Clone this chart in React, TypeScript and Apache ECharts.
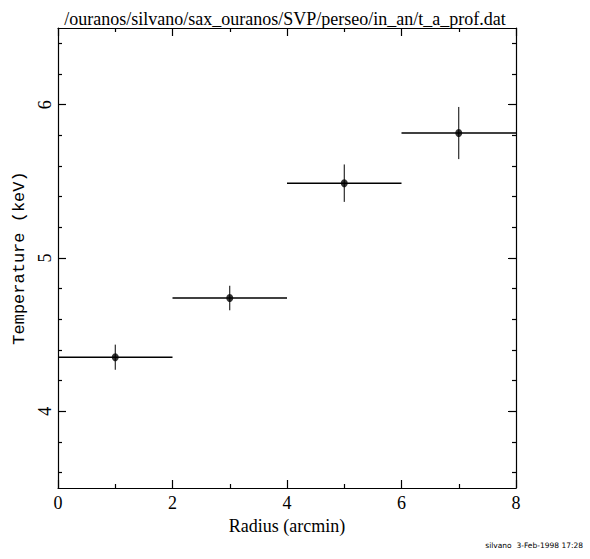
import React, { useEffect, useRef } from "react";
import * as echarts from "echarts";

const chartTitle = "/ouranos/silvano/sax_ouranos/SVP/perseo/in_an/t_a_prof.dat";
const xName = "Radius (arcmin)";
const yName = "Temperature (keV)";
const footer = "silvano  3-Feb-1998 17:28";

const radius = [1, 3, 5, 7];
const radiusErr = [1, 1, 1, 1];
const temperature = [4.353, 4.739, 5.488, 5.815];
const temperatureErr = [0.082, 0.08, 0.122, 0.17];

const yMajorTicks = [4, 5, 6];
const yMinorTicks = [3.6, 3.8, 4.2, 4.4, 4.6, 4.8, 5.2, 5.4, 5.6, 5.8, 6.2, 6.4];

const serif = "Liberation Serif";
const axisLineStyle = { color: "#000", width: 1.2 };

function xAxisDef(position: "bottom" | "top", labels: boolean) {
  return {
    type: "value",
    position,
    min: 0,
    max: 8,
    interval: 2,
    name: labels ? xName : "",
    nameLocation: "middle",
    nameGap: 29,
    nameTextStyle: { fontFamily: serif, fontSize: 18, color: "#000" },
    axisLine: { show: true, onZero: false, lineStyle: axisLineStyle },
    axisTick: { show: true, inside: true, length: 8, lineStyle: axisLineStyle },
    minorTick: { show: true, splitNumber: 2, length: 4, lineStyle: axisLineStyle },
    axisLabel: { show: labels, fontFamily: serif, fontSize: 18, color: "#000", margin: 6 },
    splitLine: { show: false },
    minorSplitLine: { show: false },
  };
}

function yAxisDef(position: "left" | "right", ticks: number[], major: boolean, labels: boolean) {
  return {
    type: "value",
    position,
    min: 3.5,
    max: 6.5,
    name: labels ? yName : "",
    nameLocation: "middle",
    nameRotate: 90,
    nameGap: 30,
    nameTextStyle: { fontFamily: "Liberation Mono", fontSize: 17, color: "#000" },
    axisLine: { show: major, onZero: false, lineStyle: axisLineStyle },
    axisTick: { show: true, inside: true, length: major ? 8 : 4, customValues: ticks, lineStyle: axisLineStyle },
    axisLabel: { show: labels, customValues: ticks, rotate: 90, fontFamily: serif, fontSize: 18, color: "#000", margin: 4 },
    splitLine: { show: false },
  };
}

export default function App() {
  const ref = useRef<HTMLDivElement>(null);
  useEffect(() => {
    if (!ref.current) return;
    const chart = echarts.init(ref.current, undefined, { renderer: "svg" });
    const data = radius.map((r, i) => [r, temperature[i], radiusErr[i], temperatureErr[i]]);
    chart.setOption({
      animation: false,
      backgroundColor: "#fff",
      title: {
        text: chartTitle,
        left: 280,
        top: 5,
        textAlign: "center",
        textStyle: { fontFamily: serif, fontSize: 18, fontWeight: "normal", color: "#000" },
      },
      grid: { left: 58, right: 74, top: 28, bottom: 71, containLabel: false },
      xAxis: [xAxisDef("bottom", true), xAxisDef("top", false)],
      yAxis: [
        yAxisDef("left", yMajorTicks, true, true),
        yAxisDef("left", yMinorTicks, false, false),
        yAxisDef("right", yMajorTicks, true, false),
        yAxisDef("right", yMinorTicks, false, false),
      ],
      graphic: [
        {
          type: "text",
          right: 7,
          top: 541,
          style: { text: footer, fontFamily: "DejaVu Sans", fontSize: 7.5, fill: "#000" },
        },
      ],
      series: [
        {
          type: "custom",
          xAxisIndex: 0,
          yAxisIndex: 0,
          data,
          encode: { x: 0, y: 1 },
          renderItem: (params: any, api: any) => {
            const x = api.value(0);
            const y = api.value(1);
            const xe = api.value(2);
            const ye = api.value(3);
            const l = api.coord([x - xe, y]);
            const r = api.coord([x + xe, y]);
            const t = api.coord([x, y + ye]);
            const b = api.coord([x, y - ye]);
            return {
              type: "group",
              children: [
                { type: "line", shape: { x1: l[0], y1: l[1], x2: r[0], y2: r[1] }, style: { stroke: "#000", lineWidth: 1.5 } },
                { type: "line", shape: { x1: t[0], y1: t[1], x2: b[0], y2: b[1] }, style: { stroke: "#000", lineWidth: 1 } },
              ],
            };
          },
        },
        {
          type: "scatter",
          xAxisIndex: 0,
          yAxisIndex: 0,
          data: radius.map((r, i) => [r, temperature[i]]),
          symbol: "circle",
          symbolSize: [7, 8],
          itemStyle: { color: "#000" },
        },
      ],
    });
    return () => chart.dispose();
  }, []);
  return (
    <div
      ref={ref}
      style={{ position: "fixed", left: 0, top: 0, width: 590, height: 559, background: "#fff" }}
    />
  );
}
